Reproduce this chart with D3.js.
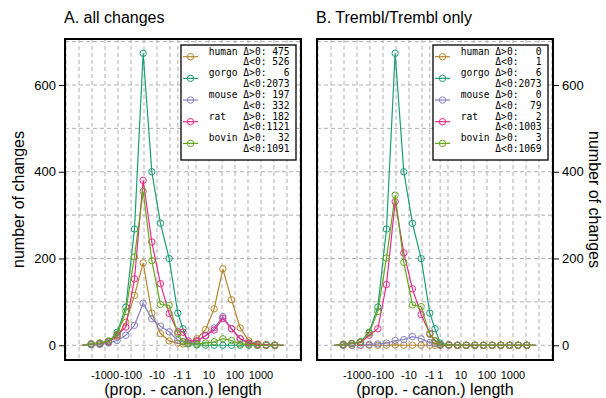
<!DOCTYPE html>
<html lang="en">
<head>
<meta charset="UTF-8">
<title>Length changes</title>
<script src="https://d3js.org/d3.v7.min.js"></script>
<style>
    body { margin: 0; background: #fff; }
    svg { font-family: "Liberation Sans", Arial, Helvetica, sans-serif; }
    .legend text { font-family: "DejaVu Sans Mono", monospace; white-space: pre; }
</style>
</head>
<body>
<script>
    // bin positions on the signed log10 axis (prop. - canon. length)
    const binPos = [-3.867, -3.533, -3.2, -2.867, -2.533, -2.2, -1.867, -1.533, -1.2, -0.867, -0.533, -0.2, 0,
                    0.2, 0.533, 0.867, 1.2, 1.533, 1.867, 2.2, 2.533, 2.867, 3.2, 3.533, 3.867];
    const xTickPos = [-3, -2, -1, -0.2, 0.2, 1, 2, 3];
    const xTickLabels = ["-1000", "-100", "-10", "-1", "1", "10", "100", "1000"];
    const xGridPos = [-4.5, -4, -3.5, -3, -2.5, -2, -1.5, -1, -0.5, -0.2, 0.2, 0.5, 1, 1.5, 2, 2.5, 3, 3.5, 4, 4.5];
    const yTicks = [0, 200, 400, 600];
    const yGrid = [0, 100, 200, 300, 400, 500, 600, 700];

    const species = ["human", "gorgo", "mouse", "rat", "bovin"];
    const colors = ["#b5862c", "#1b9e77", "#8580c0", "#e7298a", "#66a61e"];

    // A. all changes
    const allHuman = [0, 2, 3, 8, 20, 53, 115, 190, 74, 27, 10, 5, 3, 5, 15, 36, 84, 176, 105, 40, 10, 3, 1, 0, 0];
    const allGorgo = [0, 2, 4, 8, 30, 88, 268, 673, 400, 281, 200, 74, 38, 5, 1, 0, 0, 0, 0, 0, 0, 0, 0, 0, 0];
    const allMouse = [0, 1, 2, 5, 11, 23, 46, 97, 61, 44, 31, 11, 8, 5, 10, 22, 40, 66, 38, 15, 5, 1, 0, 0, 0];
    const allRat   = [0, 3, 5, 8, 23, 42, 153, 380, 238, 142, 73, 31, 30, 10, 10, 22, 35, 62, 38, 15, 5, 2, 1, 0, 0];
    const allBovin = [0, 3, 5, 10, 25, 78, 204, 355, 195, 94, 92, 27, 8, 3, 3, 5, 8, 15, 11, 3, 2, 0, 0, 0, 0];
    const allPos = [475, 6, 197, 182, 32];
    const allNeg = [526, 2073, 332, 1121, 1091];

    // B. Trembl/Trembl only
    const trHuman = [0, 0, 0, 0, 0, 0, 0, 1, 0, 0, 0, 0, 0, 0, 0, 0, 0, 0, 0, 0, 0, 0, 0, 0, 0];
    const trGorgo = [0, 2, 4, 8, 30, 88, 268, 673, 400, 281, 200, 74, 38, 5, 1, 0, 0, 0, 0, 0, 0, 0, 0, 0, 0];
    const trMouse = [0, 0, 0, 0, 2, 3, 5, 11, 13, 20, 15, 6, 4, 0, 0, 0, 0, 0, 0, 0, 0, 0, 0, 0, 0];
    const trRat   = [0, 2, 4, 6, 23, 38, 140, 331, 213, 130, 71, 27, 10, 1, 1, 0, 0, 0, 0, 0, 0, 0, 0, 0, 0];
    const trBovin = [0, 2, 4, 8, 28, 78, 201, 346, 191, 93, 89, 25, 10, 2, 1, 0, 0, 0, 0, 0, 0, 0, 0, 0, 0];
    const trPos = [0, 6, 0, 2, 3];
    const trNeg = [1, 2073, 79, 1003, 1069];

    const W = 606, H = 398;
    const plotTop = 39, plotBottom = 360;

    const svg = d3.select("body").append("svg")
        .attr("width", W)
        .attr("height", H);

    const y = d3.scaleLinear().domain([-34, 706]).range([plotBottom, plotTop]);

    function drawPanel(left, right, title, seriesList, pos, neg, axisSide) {
        const x = d3.scaleLinear().domain([-4.54, 4.54]).range([left, right]);
        const g = svg.append("g");

        // grid
        g.selectAll(".hgrid").data(yGrid).join("line")
            .attr("x1", left).attr("x2", right)
            .attr("y1", d => y(d)).attr("y2", d => y(d))
            .attr("stroke", "#b0b0b0").attr("stroke-dasharray", "4,3");
        g.selectAll(".vgrid").data(xGridPos).join("line")
            .attr("x1", d => x(d)).attr("x2", d => x(d))
            .attr("y1", plotTop).attr("y2", plotBottom)
            .attr("stroke", "#b0b0b0").attr("stroke-dasharray", "4,3");

        // series
        const line = d3.line().x((d, i) => x(binPos[i])).y(d => y(d));
        seriesList.forEach((vals, k) => {
            g.append("path")
                .attr("d", line(vals))
                .attr("fill", "none")
                .attr("stroke", colors[k])
                .attr("stroke-width", 1.2);
            g.selectAll(".pt" + k)
                .data(vals.slice(1, -1))
                .join("circle")
                .attr("cx", (d, i) => x(binPos[i + 1]))
                .attr("cy", d => y(d))
                .attr("r", 3.2)
                .attr("fill", "none")
                .attr("stroke", colors[k])
                .attr("stroke-width", 1);
        });

        // frame
        g.append("rect")
            .attr("x", left).attr("y", plotTop)
            .attr("width", right - left).attr("height", plotBottom - plotTop)
            .attr("fill", "none").attr("stroke", "#000").attr("stroke-width", 2);

        // x axis labels
        g.selectAll(".xl").data(xTickPos).join("text")
            .attr("x", d => x(d)).attr("y", 379)
            .attr("text-anchor", "middle")
            .attr("font-size", 11)
            .text((d, i) => xTickLabels[i]);
        g.append("text")
            .attr("x", (left + right) / 2).attr("y", 395)
            .attr("text-anchor", "middle")
            .attr("font-size", 16)
            .text("(prop. - canon.) length");

        // y axis
        const ax = axisSide === "left" ? d3.axisLeft(y) : d3.axisRight(y);
        const yAxis = g.append("g")
            .attr("transform", `translate(${axisSide === "left" ? left : right},0)`)
            .call(ax.tickValues(yTicks).tickSize(6).tickPadding(3));
        yAxis.select(".domain").remove();
        yAxis.selectAll("text").attr("font-size", 13).attr("font-family", null);
        const titleX = axisSide === "left" ? 18 : 595;
        g.append("text")
            .attr("transform", `translate(${titleX},${(plotTop + plotBottom) / 2}) rotate(${axisSide === "left" ? -90 : 90})`)
            .attr("text-anchor", "middle")
            .attr("dy", "0.35em")
            .attr("font-size", 16)
            .text("number of changes");

        // panel title
        g.append("text")
            .attr("x", left - 1).attr("y", 23)
            .attr("font-size", 16)
            .text(title);

        // legend
        const lx = right - 120, ly = 45;
        const leg = g.append("g").attr("class", "legend");
        leg.append("rect")
            .attr("x", lx).attr("y", ly)
            .attr("width", 115).attr("height", 115)
            .attr("fill", "#fff").attr("stroke", "#000").attr("stroke-width", 1.3);
        species.forEach((s, k) => {
            const cy = ly + 11.7 + k * 21.67;
            leg.append("line")
                .attr("x1", lx + 2).attr("x2", lx + 17)
                .attr("y1", cy).attr("y2", cy)
                .attr("stroke", colors[k]).attr("stroke-width", 1.2);
            leg.append("circle")
                .attr("cx", lx + 9.5).attr("cy", cy).attr("r", 3.2)
                .attr("fill", "none").attr("stroke", colors[k]);
            leg.append("text")
                .attr("x", lx + 27.7).attr("y", cy - 2.2)
                .attr("font-size", 9.6)
                .text(s.padEnd(6) + "Δ>0:" + String(pos[k]).padStart(4));
            leg.append("text")
                .attr("x", lx + 27.7).attr("y", cy + 8.6)
                .attr("font-size", 9.6)
                .text(" ".repeat(6) + "Δ<0:" + String(neg[k]).padStart(4));
        });
    }

    drawPanel(65, 301, "A. all changes",
        [allHuman, allGorgo, allMouse, allRat, allBovin], allPos, allNeg, "left");
    drawPanel(317, 553, "B. Trembl/Trembl only",
        [trHuman, trGorgo, trMouse, trRat, trBovin], trPos, trNeg, "right");
</script>
</body>
</html>
